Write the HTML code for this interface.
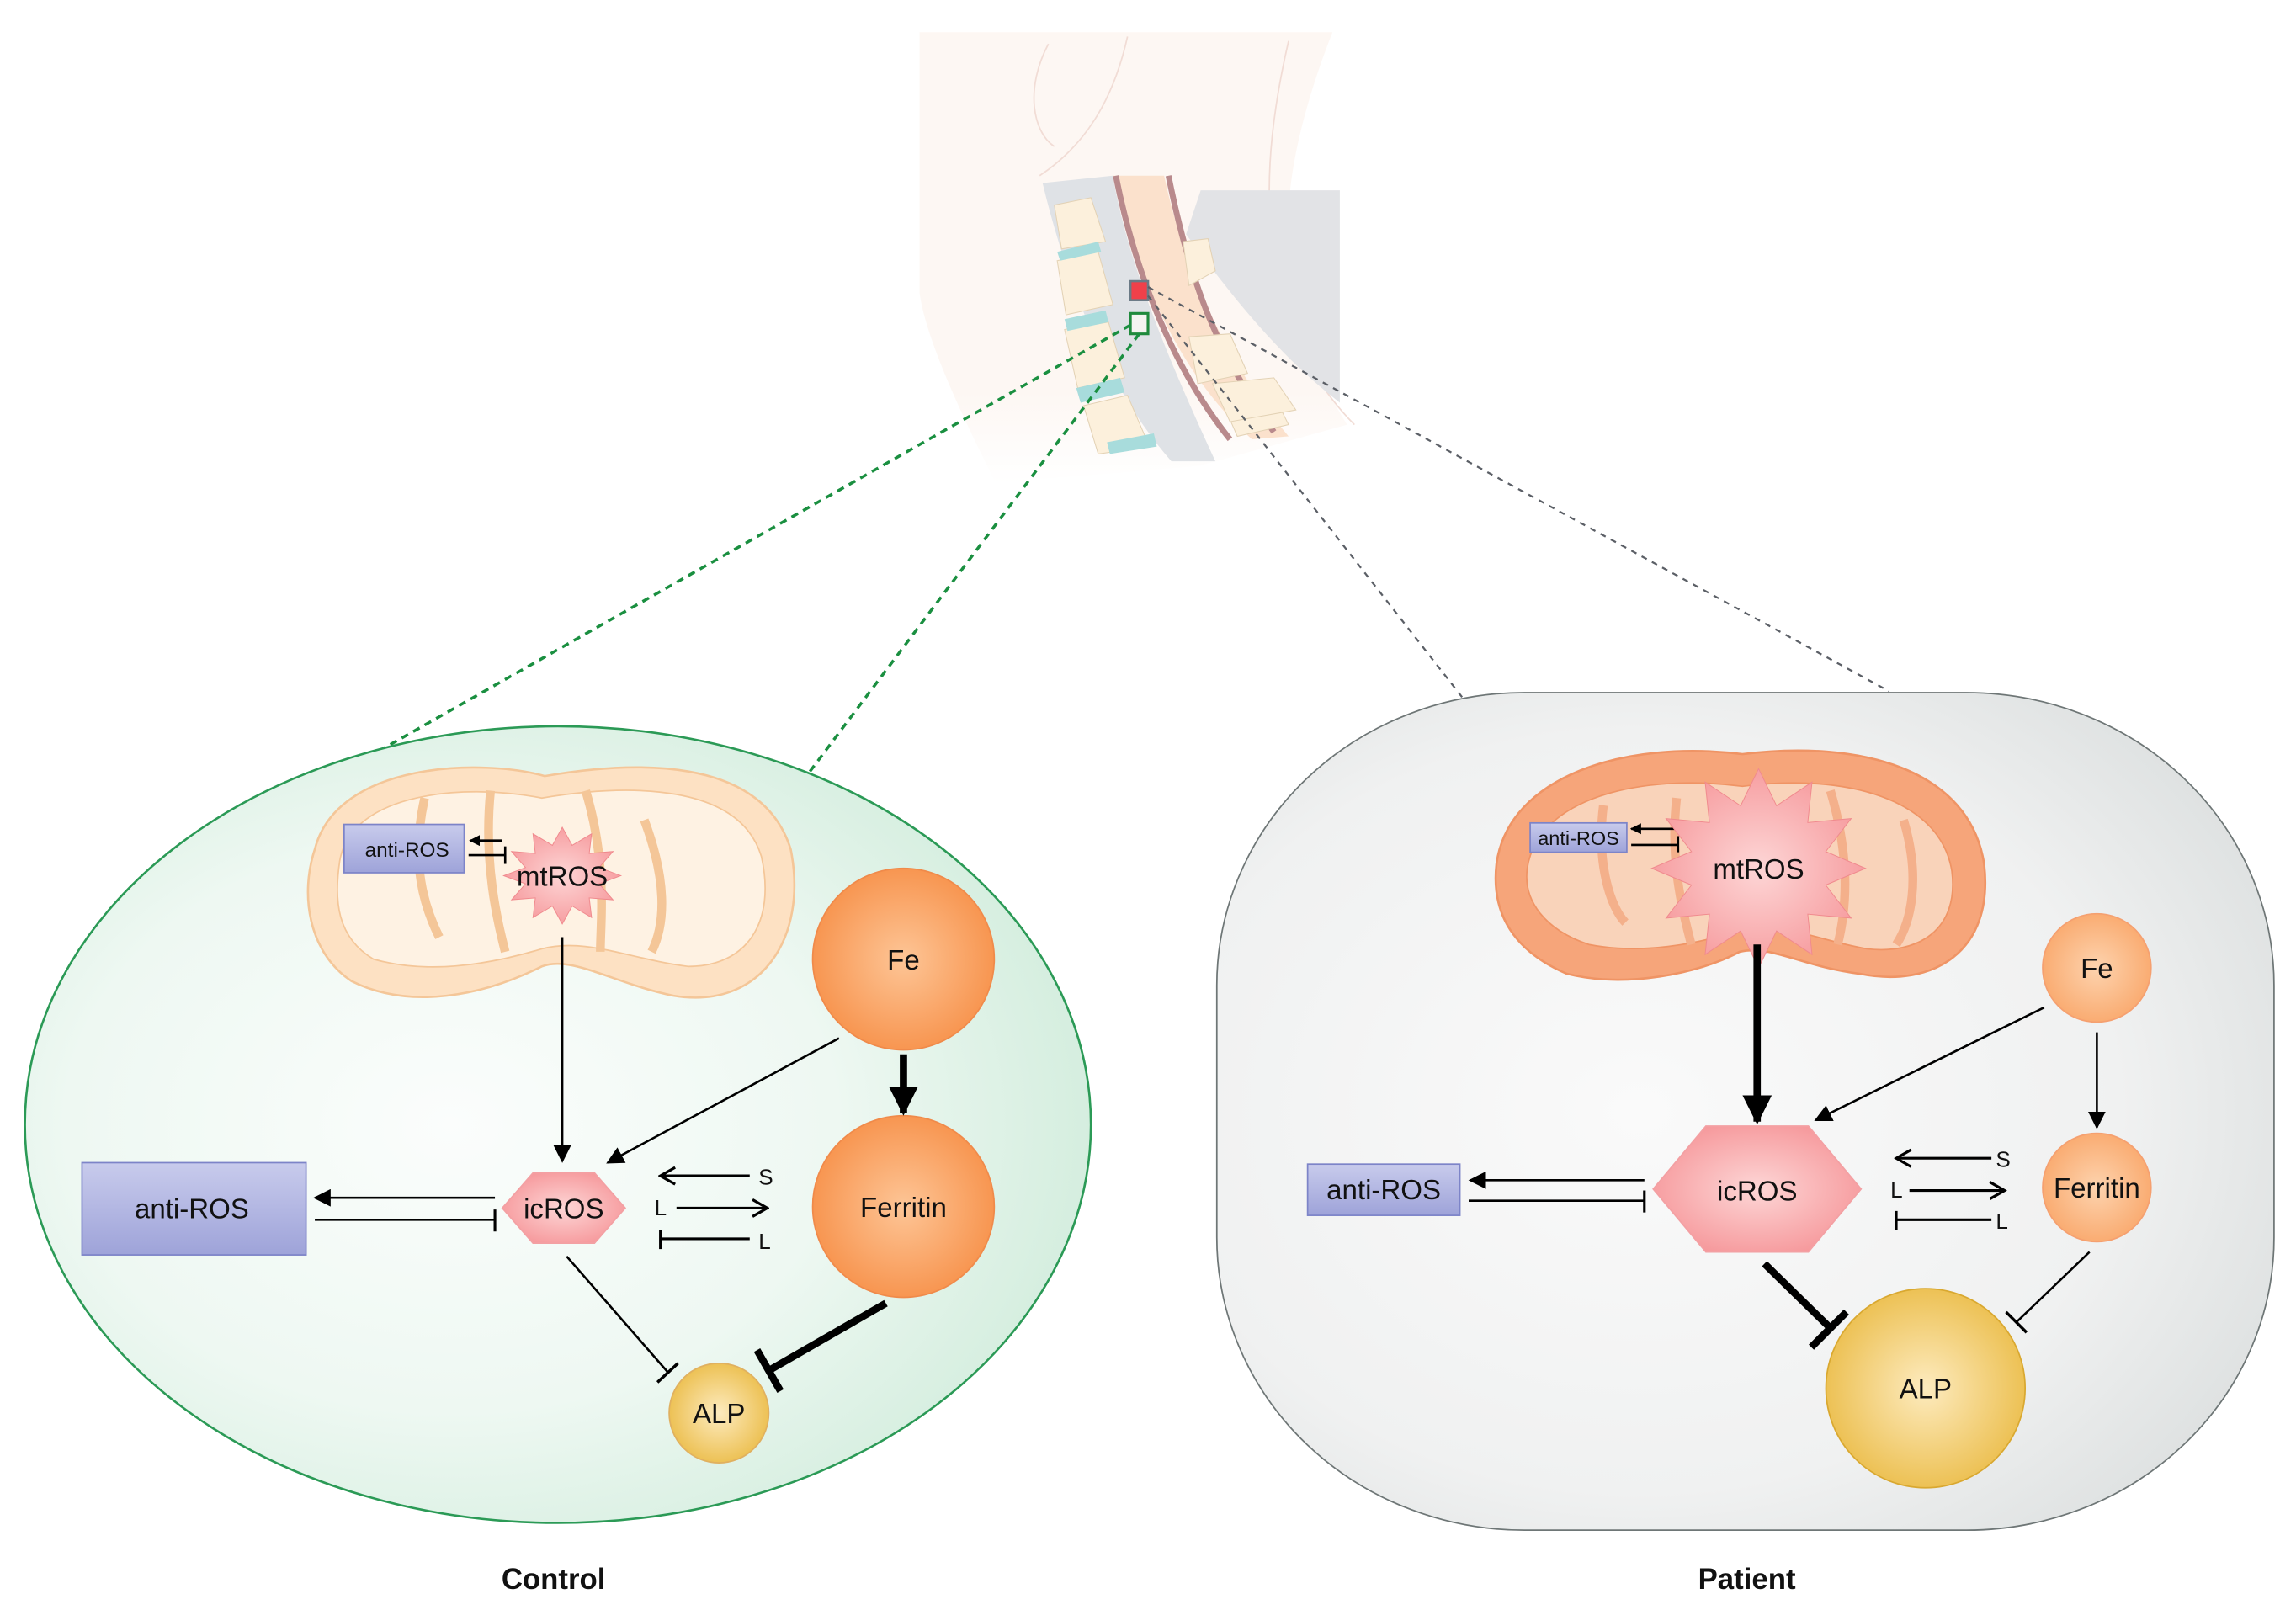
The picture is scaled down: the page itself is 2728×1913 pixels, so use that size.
<!DOCTYPE html>
<html><head><meta charset="utf-8"><style>
html,body{margin:0;padding:0;background:#fff;}
svg{display:block;}
text{font-family:"Liberation Sans",sans-serif;fill:#111;}
</style></head><body>
<svg width="2728" height="1913" viewBox="0 0 1568 1099.5" preserveAspectRatio="none" xmlns="http://www.w3.org/2000/svg">
<defs>
<radialGradient id="gC" cx="0.4" cy="0.5" r="0.6"><stop offset="0" stop-color="#fbfdfc"/><stop offset="0.6" stop-color="#eef8f2"/><stop offset="1" stop-color="#d5eedf"/></radialGradient>
<radialGradient id="gP" cx="0.4" cy="0.5" r="0.65"><stop offset="0" stop-color="#fafafa"/><stop offset="0.7" stop-color="#f0f1f1"/><stop offset="1" stop-color="#dfe2e2"/></radialGradient>
<radialGradient id="gO" cx="0.5" cy="0.5" r="0.55"><stop offset="0" stop-color="#fdc596"/><stop offset="1" stop-color="#f7914a"/></radialGradient>
<radialGradient id="gO2" cx="0.5" cy="0.5" r="0.55"><stop offset="0" stop-color="#fdd3ae"/><stop offset="1" stop-color="#f9a86c"/></radialGradient>
<radialGradient id="gY" cx="0.5" cy="0.5" r="0.55"><stop offset="0" stop-color="#fdebbf"/><stop offset="1" stop-color="#ebbd4a"/></radialGradient>
<radialGradient id="gR" cx="0.5" cy="0.5" r="0.55"><stop offset="0" stop-color="#fdd6d6"/><stop offset="1" stop-color="#f6999c"/></radialGradient>
<linearGradient id="gB" x1="0" y1="0" x2="0" y2="1"><stop offset="0" stop-color="#c8cbec"/><stop offset="1" stop-color="#9ea3d9"/></linearGradient>
<linearGradient id="gN" x1="0" y1="0" x2="0" y2="1"><stop offset="0.8" stop-color="#fdf7f3"/><stop offset="1" stop-color="#fdf7f3" stop-opacity="0"/></linearGradient>
<marker id="ah" viewBox="0 0 10 10" refX="9" refY="5" markerWidth="4" markerHeight="4" orient="auto"><path d="M0,0 L10,5 L0,10 z" fill="#000"/></marker>
<marker id="ahs" viewBox="0 0 10 10" refX="9" refY="5" markerWidth="8" markerHeight="8" orient="auto"><path d="M0,0 L10,5 L0,10 z" fill="#000"/></marker>
<marker id="ahl" viewBox="0 0 10 10" refX="9" refY="5" markerWidth="5" markerHeight="5" orient="auto"><path d="M0,0 L10,5 L0,10 z" fill="#000"/></marker>
<marker id="ao" viewBox="0 0 10 10" refX="9" refY="5" markerWidth="8" markerHeight="8" orient="auto"><path d="M2,1 L9,5 L2,9" fill="none" stroke="#000" stroke-width="1.3"/></marker>
</defs>

<!-- neck / spine illustration -->
<path d="M628,22 L910,22 C895,60 880,110 880,150 C880,210 895,250 920,290 L820,318 L680,330 C655,280 632,230 628,200 Z" fill="url(#gN)"/>
<path d="M716,30 C700,60 705,90 720,100 M770,25 C760,70 740,100 710,120 M880,28 C868,80 860,140 875,200 C885,240 905,270 925,290" fill="none" stroke="#f1dcd5" stroke-width="1"/>
<path d="M712,125 C730,200 760,270 800,315 L830,315 C800,250 770,180 760,120 Z" fill="#dfe2e6"/>
<path d="M760,120 C780,200 810,260 855,300 L880,298 C840,250 810,190 795,120 Z" fill="#fbe1cc"/>
<path d="M762,120 C775,185 800,250 840,300" fill="none" stroke="#b98a8c" stroke-width="4"/>
<path d="M798,120 C812,190 830,240 870,295" fill="none" stroke="#b98a8c" stroke-width="4"/>
<path d="M810,160 C840,200 870,240 915,275 L915,130 L820,130 Z" fill="#e2e3e6"/>
<g fill="#fcf0dc" stroke="#e3d2b5" stroke-width="0.6">
<path d="M722,178 L750,172 L760,208 L728,215 Z"/><path d="M727,225 L757,220 L768,258 L736,265 Z"/><path d="M740,277 L770,270 L785,305 L750,310 Z"/><path d="M720,140 L745,135 L755,165 L725,170 Z"/>
<path d="M808,165 L825,163 L830,185 L812,195 Z"/><path d="M812,230 L840,228 L852,255 L818,262 Z"/><path d="M835,275 L870,270 L880,290 L845,298 Z"/><path d="M828,262 L870,258 L885,280 L840,288Z"/>
</g>
<g fill="#a8dcdc"><path d="M722,172 L750,165 L752,172 L724,178 Z"/><path d="M727,218 L755,212 L757,220 L729,226 Z"/><path d="M735,265 L765,258 L768,268 L738,275 Z"/><path d="M756,302 L788,296 L790,305 L758,310 Z"/></g>
<rect x="772" y="192" width="12" height="13" fill="#f0404a" stroke="#6b7a86" stroke-width="1.5"/>
<rect x="772" y="214" width="12" height="14" fill="#f4f4f0" stroke="#1f8a3c" stroke-width="1.8"/>
<line x1="772" y1="222" x2="255" y2="515" stroke="#1a8f40" stroke-width="2" stroke-dasharray="5,4"/>
<line x1="778" y1="228" x2="553" y2="527" stroke="#1a8f40" stroke-width="2" stroke-dasharray="5,4"/>
<line x1="784" y1="202" x2="1000" y2="478" stroke="#5b5f66" stroke-width="1.3" stroke-dasharray="4,4"/>
<line x1="784" y1="196" x2="1290" y2="472" stroke="#5b5f66" stroke-width="1.3" stroke-dasharray="4,4"/>

<!-- Control cell -->
<ellipse cx="381" cy="768" rx="364" ry="272" fill="url(#gC)" stroke="#2b9a56" stroke-width="1.5"/>
<path d="M215,580 C230,520 330,518 372,530 C430,520 520,515 540,580 C552,640 520,690 460,680 C420,672 390,652 370,660 C330,680 280,690 240,670 C210,650 205,610 215,580 Z" fill="#fde1c3" stroke="#f4c698" stroke-width="1.5"/>
<path d="M232,588 C240,540 320,535 370,545 C430,535 505,535 520,585 C530,630 510,660 470,660 C430,655 400,640 370,648 C330,660 290,665 255,655 C230,640 228,615 232,588 Z" fill="#fef2e3" stroke="#f4c698" stroke-width="1"/>
<path d="M290,545 C280,590 290,620 300,640 M335,540 C330,590 340,630 345,650 M400,540 C415,590 410,630 410,650 M440,560 C455,600 455,630 445,650" fill="none" stroke="#f4c698" stroke-width="6"/>
<rect x="235" y="563" width="82" height="33" fill="url(#gB)" stroke="#7d84c8" stroke-width="1"/>
<text x="278" y="585" font-size="14" text-anchor="middle">anti-ROS</text>
<line x1="343" y1="574" x2="321" y2="574" stroke="#000" stroke-width="1.5" marker-end="url(#ahl)"/>
<line x1="320" y1="584" x2="345" y2="584" stroke="#000" stroke-width="1.5"/><line x1="345" y1="578" x2="345" y2="590" stroke="#000" stroke-width="1.5"/>
<polygon transform="translate(384,598) scale(40,33)" fill="url(#gR)" stroke="#f08a8e" stroke-width="1" vector-effect="non-scaling-stroke" points="1,0 .628,.168 .866,.5 .46,.46 .5,.866 .168,.628 0,1 -.168,.628 -.5,.866 -.46,.46 -.866,.5 -.628,.168 -1,0 -.628,-.168 -.866,-.5 -.46,-.46 -.5,-.866 -.168,-.628 0,-1 .168,-.628 .5,-.866 .46,-.46 .866,-.5 .628,-.168"/>
<text x="384" y="605" font-size="19" text-anchor="middle">mtROS</text>
<line x1="384" y1="640" x2="384" y2="793" stroke="#000" stroke-width="1.5" marker-end="url(#ahs)"/>
<circle cx="617" cy="655" r="62" fill="url(#gO)" stroke="#f08a4a" stroke-width="1"/>
<text x="617" y="662" font-size="19" text-anchor="middle">Fe</text>
<circle cx="617" cy="824" r="62" fill="url(#gO)" stroke="#f08a4a" stroke-width="1"/>
<text x="617" y="831" font-size="19" text-anchor="middle">Ferritin</text>
<line x1="617" y1="720" x2="617" y2="760" stroke="#000" stroke-width="5" marker-end="url(#ah)"/>
<line x1="573" y1="709" x2="415" y2="794" stroke="#000" stroke-width="1.5" marker-end="url(#ahs)"/>
<polygon points="343,825 364,801 406,801 427,825 406,849 364,849" fill="url(#gR)" stroke="#f3a0a3" stroke-width="1"/>
<text x="385" y="832" font-size="19" text-anchor="middle">icROS</text>
<rect x="56" y="794" width="153" height="63" fill="url(#gB)" stroke="#7d84c8" stroke-width="1"/>
<text x="131" y="832" font-size="19" text-anchor="middle">anti-ROS</text>
<line x1="338" y1="818" x2="215" y2="818" stroke="#000" stroke-width="1.5" marker-end="url(#ahs)"/>
<line x1="215" y1="833" x2="338" y2="833" stroke="#000" stroke-width="1.5"/><line x1="338" y1="826" x2="338" y2="841" stroke="#000" stroke-width="1.8"/>
<line x1="512" y1="803" x2="451" y2="803" stroke="#000" stroke-width="1.8" marker-end="url(#ao)"/>
<text x="518" y="809" font-size="15">S</text>
<text x="447" y="830" font-size="15">L</text>
<line x1="462" y1="825" x2="524" y2="825" stroke="#000" stroke-width="1.8" marker-end="url(#ao)"/>
<line x1="451" y1="846" x2="512" y2="846" stroke="#000" stroke-width="1.8"/><line x1="451" y1="840" x2="451" y2="853" stroke="#000" stroke-width="1.8"/>
<text x="518" y="853" font-size="15">L</text>
<circle cx="491" cy="965" r="34" fill="url(#gY)" stroke="#e0b060" stroke-width="1"/>
<text x="491" y="972" font-size="19" text-anchor="middle">ALP</text>
<line x1="387" y1="858" x2="456" y2="937" stroke="#000" stroke-width="1.5"/><line x1="449" y1="944" x2="463" y2="931" stroke="#000" stroke-width="2"/>
<line x1="605" y1="890" x2="525" y2="936" stroke="#000" stroke-width="5"/><line x1="517" y1="922" x2="533" y2="950" stroke="#000" stroke-width="5"/>

<!-- Patient cell -->
<rect x="831" y="473" width="722" height="572" rx="210" ry="200" fill="url(#gP)" stroke="#6e7676" stroke-width="1"/>
<path d="M1022,590 C1030,530 1110,505 1190,515 C1270,505 1345,525 1355,590 C1362,650 1320,675 1270,665 C1230,660 1210,645 1188,650 C1160,665 1110,675 1070,665 C1035,650 1018,625 1022,590 Z" fill="#f6a57a" stroke="#ef9465" stroke-width="1.5"/>
<path d="M1043,593 C1050,545 1120,528 1190,537 C1260,528 1325,545 1333,595 C1338,635 1310,652 1275,648 C1240,642 1215,628 1188,635 C1160,645 1120,652 1085,645 C1055,635 1040,615 1043,593 Z" fill="#f9d3ba" stroke="#ef9465" stroke-width="1"/>
<path d="M1095,550 C1090,590 1100,620 1110,630 M1145,545 C1140,590 1150,625 1155,645 M1250,540 C1265,590 1260,625 1255,645 M1300,560 C1312,600 1305,630 1295,645" fill="none" stroke="#f4b08b" stroke-width="6"/>
<rect x="1045" y="562" width="66" height="20" fill="url(#gB)" stroke="#7d84c8" stroke-width="1"/>
<text x="1078" y="577" font-size="13.5" text-anchor="middle">anti-ROS</text>
<line x1="1147" y1="566" x2="1114" y2="566" stroke="#000" stroke-width="1.5" marker-end="url(#ahl)"/>
<line x1="1114" y1="577" x2="1146" y2="577" stroke="#000" stroke-width="1.5"/><line x1="1146" y1="571" x2="1146" y2="582" stroke="#000" stroke-width="1.5"/>
<polygon transform="translate(1201,593) scale(73,68)" fill="url(#gR)" stroke="#f08a8e" stroke-width="1" vector-effect="non-scaling-stroke" points="1,0 .628,.168 .866,.5 .46,.46 .5,.866 .168,.628 0,1 -.168,.628 -.5,.866 -.46,.46 -.866,.5 -.628,.168 -1,0 -.628,-.168 -.866,-.5 -.46,-.46 -.5,-.866 -.168,-.628 0,-1 .168,-.628 .5,-.866 .46,-.46 .866,-.5 .628,-.168"/>
<text x="1201" y="600" font-size="19" text-anchor="middle">mtROS</text>
<line x1="1200" y1="645" x2="1200" y2="766" stroke="#000" stroke-width="5" marker-end="url(#ah)"/>
<circle cx="1432" cy="661" r="37" fill="url(#gO2)" stroke="#f5a070" stroke-width="1"/>
<text x="1432" y="668" font-size="19" text-anchor="middle">Fe</text>
<circle cx="1432" cy="811" r="37" fill="url(#gO2)" stroke="#f5a070" stroke-width="1"/>
<text x="1432" y="818" font-size="19" text-anchor="middle">Ferritin</text>
<line x1="1432" y1="705" x2="1432" y2="770" stroke="#000" stroke-width="1.5" marker-end="url(#ahs)"/>
<line x1="1396" y1="688" x2="1240" y2="765" stroke="#000" stroke-width="1.5" marker-end="url(#ahs)"/>
<polygon points="1129,812 1165,769 1235,769 1271,812 1235,855 1165,855" fill="url(#gR)" stroke="#f3a0a3" stroke-width="1"/>
<text x="1200" y="820" font-size="19" text-anchor="middle">icROS</text>
<rect x="893" y="795" width="104" height="35" fill="url(#gB)" stroke="#7d84c8" stroke-width="1"/>
<text x="945" y="819" font-size="19" text-anchor="middle">anti-ROS</text>
<line x1="1123" y1="806" x2="1004" y2="806" stroke="#000" stroke-width="1.5" marker-end="url(#ahs)"/>
<line x1="1003" y1="820" x2="1123" y2="820" stroke="#000" stroke-width="1.5"/><line x1="1123" y1="813" x2="1123" y2="828" stroke="#000" stroke-width="1.8"/>
<line x1="1360" y1="791" x2="1295" y2="791" stroke="#000" stroke-width="1.8" marker-end="url(#ao)"/>
<text x="1363" y="797" font-size="15">S</text>
<text x="1291" y="818" font-size="15">L</text>
<line x1="1304" y1="813" x2="1369" y2="813" stroke="#000" stroke-width="1.8" marker-end="url(#ao)"/>
<line x1="1295" y1="833" x2="1360" y2="833" stroke="#000" stroke-width="1.8"/><line x1="1295" y1="827" x2="1295" y2="840" stroke="#000" stroke-width="1.8"/>
<text x="1363" y="839" font-size="15">L</text>
<circle cx="1315" cy="948" r="68" fill="url(#gY)" stroke="#d9a830" stroke-width="1"/>
<text x="1315" y="955" font-size="19" text-anchor="middle">ALP</text>
<line x1="1205" y1="863" x2="1250" y2="907" stroke="#000" stroke-width="5"/><line x1="1237" y1="920" x2="1261" y2="896" stroke="#000" stroke-width="5"/>
<line x1="1427" y1="855" x2="1377" y2="903" stroke="#000" stroke-width="1.5"/><line x1="1370" y1="896" x2="1384" y2="910" stroke="#000" stroke-width="2"/>

<text x="378" y="1085" font-size="20" font-weight="bold" text-anchor="middle">Control</text>
<text x="1193" y="1085" font-size="20" font-weight="bold" text-anchor="middle">Patient</text>
</svg>
</body></html>
